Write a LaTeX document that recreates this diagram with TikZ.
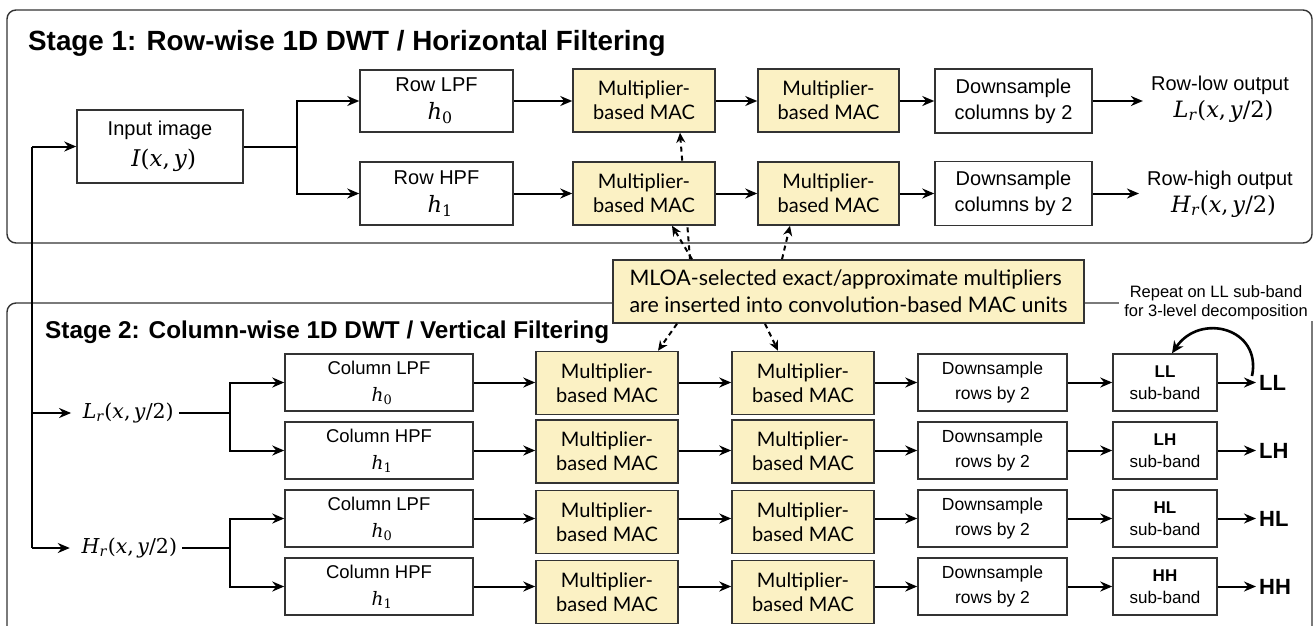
\RequirePackage{fix-cm}
\documentclass[tikz,border=0pt]{standalone}
\usepackage{fontspec}
\setmainfont{Liberation Sans}
\newfontfamily\macfont{Lato}
\newfontfamily\mserif{DejaVu Serif}
\usetikzlibrary{arrows.meta,calc}
\definecolor{macfill}{HTML}{FBF1C4}
\definecolor{edge}{HTML}{333333}
\newcommand\fsz[2]{\fontsize{#1pt}{#2pt}\selectfont}
% serif italic variables, set as text
\newcommand\vi[1]{\textit{#1}}
\newcommand\mth[2][]{{\mserif#1 #2}}
\newcommand\varsize{\fsz{22.5}{28}}
\newcommand\low[1]{\textsubscript{#1}}
\pgfdeclarelayer{back}
\pgfsetlayers{back,main}

\begin{document}
\begin{tikzpicture}[x=1pt,y=-1pt,
  frame/.style={draw=edge, line width=1.4pt, rounded corners=9pt},
  title/.style={font=\bfseries, anchor=base west, inner sep=0pt},
  blk/.style={draw=edge, line width=1.5pt, fill=white, align=center, inner sep=0pt},
  filt/.style={blk, font=\fsz{20}{28}},
  cfilt/.style={blk, font=\fsz{18.5}{27}, minimum width=188pt, minimum height=57pt},
  mac/.style={blk, fill=macfill, font=\macfont\fsz{20}{24}, minimum width=142pt, minimum height=63pt},
  dsrow/.style={blk, font=\fsz{17.5}{25}, minimum width=149pt, minimum height=57pt},
  band/.style={blk, font=\fsz{17}{22}, minimum width=104pt, minimum height=57pt},
  outl/.style={font=\bfseries\fsz{22}{26}, inner xsep=3pt},
  lbl/.style={font=\fsz{20}{27}, align=center, inner xsep=8pt},
  ln/.style={line width=2pt, draw=black},
  arr/.style={ln, -{Stealth[length=12pt,width=10pt]}},
  dasharr/.style={line width=2pt, dash pattern=on 5pt off 4pt, -{Stealth[length=10pt,width=9pt]}},
  loopar/.style={line width=2.6pt, -{Stealth[length=12pt,width=11pt]}}]

\useasboundingbox (0,0) rectangle (1316,625);

% stage frames
\draw[frame] (7,10) rectangle (1312,243);
\draw[frame] (7,303) rectangle (1312,680);
\node[title, font=\bfseries\fsz{27.8}{32}] (t1) at (28,50) {Stage 1: Row-wise 1D DWT / Horizontal Filtering};
\node[title, font=\bfseries\fsz{24.3}{29}] (t2) at (45,338) {Stage 2: Column-wise 1D DWT / Vertical Filtering};

% ---------- stage 1 ----------
\node[filt, font=\fsz{20}{31}, minimum width=166pt, minimum height=73pt] (in) at (160,146.5)
  {Input image\\\mth[\fsz{23}{28}]{\vi{I}(\vi{x},\,\vi{y})}};
\node[filt, minimum width=153pt, minimum height=62pt] (rlpf) at (436.5,101) {Row LPF\\\mth[\varsize]{\vi{h}\low{0}}};
\node[filt, minimum width=153pt, minimum height=63pt] (rhpf) at (436.5,193.5) {Row HPF\\\mth[\varsize]{\vi{h}\low{1}}};
\node[mac] (m1a) at (644,100.5) {Multiplier-\\based MAC};
\node[mac, minimum width=141pt] (m2a) at (828.5,100.5) {Multiplier-\\based MAC};
\node[mac] (m1b) at (644,193.5) {Multiplier-\\based MAC};
\node[mac, minimum width=141pt] (m2b) at (828.5,193.5) {Multiplier-\\based MAC};
\node[filt, font=\fsz{20}{26}, minimum width=157pt, minimum height=64pt] (dsa) at (1013.5,101) {Downsample\\columns by 2};
\node[filt, font=\fsz{20}{26}, minimum width=157pt, minimum height=64pt] (dsb) at (1013.5,193.5) {Downsample\\columns by 2};
\node[lbl] (outa) at (1220,99) {Row-low output\\\mth[\varsize]{\vi{L}\low{\vi{r}}(\vi{x},\,\vi{y}/2)}};
\node[lbl] (outb) at (1220,194) {Row-high output\\\mth[\varsize]{\vi{H}\low{\vi{r}}(\vi{x},\,\vi{y}/2)}};

\coordinate (br1) at (297,146.5);
\coordinate (feed) at (32,146.5);
\draw[arr] (feed) -- (in.west);
\draw[ln] (in.east) -- (br1);
\draw[arr] (br1) |- (rlpf.west);
\draw[arr] (br1) |- (rhpf.west);
\draw[arr] (rlpf.east) -- (rlpf.east -| m1a.west);
\draw[arr] (rlpf.east -| m1a.east) -- (rlpf.east -| m2a.west);
\draw[arr] (rlpf.east -| m2a.east) -- (rlpf.east -| dsa.west);
\draw[arr] (dsa.east) -- (dsa.east -| outa.west);
\draw[arr] (rhpf.east) -- (rhpf.east -| m1b.west);
\draw[arr] (rhpf.east -| m1b.east) -- (rhpf.east -| m2b.west);
\draw[arr] (rhpf.east -| m2b.east) -- (rhpf.east -| dsb.west);
\draw[arr] (dsb.east) -- (dsb.east -| outb.west);

% ---------- multiplier selection ----------
\node[blk, fill=macfill, font=\macfont\fsz{21.4}{27}, align=left, minimum width=471pt, minimum height=63pt] (mloa) at (848.5,291.5)
  {MLOA-selected exact/approximate multipliers\\are inserted into convolution-based MAC units};
\begin{pgfonlayer}{back}
  \draw[dasharr] ([xshift=-158.5pt]mloa.north) -- ([xshift=36pt]m1a.south);
\end{pgfonlayer}
\draw[dasharr] ([xshift=-156.5pt]mloa.north) -- ([xshift=28pt]m1b.south);
\draw[dasharr] ([xshift=-66.5pt]mloa.north) -- ([xshift=-38.5pt]m2b.south);

% ---------- stage 2 ----------
\node[font=\fsz{20.5}{24}, inner sep=5pt] (lr) at (125,413) {\mth{\vi{L}\low{\vi{r}}(\vi{x},\,\vi{y}/2)}};
\node[font=\fsz{20.5}{24}, inner sep=5pt] (hr) at (126,548) {\mth{\vi{H}\low{\vi{r}}(\vi{x},\,\vi{y}/2)}};
\coordinate (b2) at (230,413);
\coordinate (b3) at (230,548);

\node[cfilt] (f1) at (379,382.5) {Column LPF\\\mth{\vi{h}\low{0}}};
\node[cfilt] (f2) at (379,450.5) {Column HPF\\\mth{\vi{h}\low{1}}};
\node[cfilt] (f3) at (379,518.5) {Column LPF\\\mth{\vi{h}\low{0}}};
\node[cfilt] (f4) at (379,586.5) {Column HPF\\\mth{\vi{h}\low{1}}};

\node[mac] (c11) at (607,383) {Multiplier-\\based MAC};
\node[mac] (c12) at (607,451.5) {Multiplier-\\based MAC};
\node[mac] (c13) at (607,522) {Multiplier-\\based MAC};
\node[mac] (c14) at (607,592) {Multiplier-\\based MAC};
\node[mac] (c21) at (803,383) {Multiplier-\\based MAC};
\node[mac] (c22) at (803,451.5) {Multiplier-\\based MAC};
\node[mac] (c23) at (803,522) {Multiplier-\\based MAC};
\node[mac] (c24) at (803,592) {Multiplier-\\based MAC};

\node[dsrow] (d1) at (992.5,382.5) {Downsample\\rows by 2};
\node[dsrow] (d2) at (992.5,450.5) {Downsample\\rows by 2};
\node[dsrow] (d3) at (992.5,518.5) {Downsample\\rows by 2};
\node[dsrow] (d4) at (992.5,586.5) {Downsample\\rows by 2};

\node[band] (s1) at (1165,382.5) {\textbf{LL}\\sub-band};
\node[band] (s2) at (1165,450.5) {\textbf{LH}\\sub-band};
\node[band] (s3) at (1165,518.5) {\textbf{HL}\\sub-band};
\node[band] (s4) at (1165,586.5) {\textbf{HH}\\sub-band};

\node[outl, anchor=west] (o1) at (1256,382.5) {LL};
\node[outl, anchor=west] (o2) at (1256,450.5) {LH};
\node[outl, anchor=west] (o3) at (1256,518.5) {HL};
\node[outl, anchor=west] (o4) at (1256,586.5) {HH};

% input feed line shared by both stages
\draw[ln] (feed) -- (hr.west -| feed);
\draw[arr] (lr.west -| feed) -- (lr.west);
\draw[arr] (hr.west -| feed) -- (hr.west);
\draw[ln] (lr.east) -- (b2);
\draw[ln] (hr.east) -- (b3);
\draw[arr] (b2) |- (f1.west);
\draw[arr] (b2) |- (f2.west);
\draw[arr] (b3) |- (f3.west);
\draw[arr] (b3) |- (f4.west);

\foreach \i in {1,2,3,4}{
  \draw[arr] (f\i.east) -- (f\i.east -| c1\i.west);
  \draw[arr] (f\i.east -| c1\i.east) -- (f\i.east -| c2\i.west);
  \draw[arr] (f\i.east -| c2\i.east) -- (f\i.east -| d\i.west);
  \draw[arr] (d\i.east) -- (s\i.west);
  \draw[arr] (s\i.east) -- (o\i.west);
}

\draw[dasharr] ([xshift=-171.5pt]mloa.south) -- ([xshift=51pt]c11.north);
\draw[dasharr] ([xshift=-83.5pt]mloa.south) -- ([xshift=-25pt]c21.north);

% repeat note on the frame edge and loop arrow
\node[fill=white, font=\fsz{16.5}{19}, align=center, inner xsep=5pt, inner ysep=1pt] (rep) at (1216,303)
  {Repeat on LL sub-band\\for 3-level decomposition};
\coordinate (loop) at (1252,376);
\draw[loopar] (loop) .. controls (1262,328) and (1200,312) .. ([xshift=7pt]s1.north);
\end{tikzpicture}
\end{document}
